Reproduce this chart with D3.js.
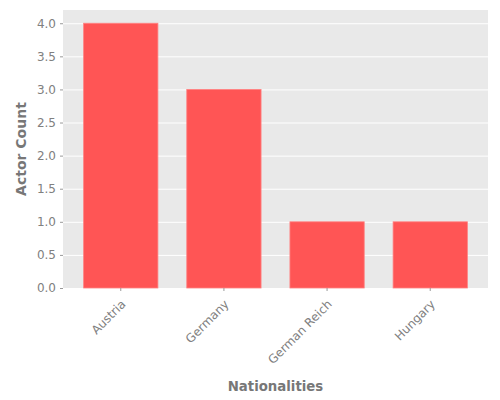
<!DOCTYPE html>
<html>
<head>
<meta charset="utf-8">
<script src="https://cdn.jsdelivr.net/npm/d3@7"></script>
<style>
  body { margin: 0; background: #fff; }
  svg { display: block; }
  svg text { font-family: "DejaVu Sans", sans-serif; }
</style>
</head>
<body>
<div id="chart"></div>
<script>
const nationalities = ['Austria', 'Germany', 'German Reich', 'Hungary'];
const actorCounts = [4, 3, 1, 1];
const yTicks = [0, 0.5, 1, 1.5, 2, 2.5, 3, 3.5, 4];

const width = 500, height = 400;
const margin = { top: 10, right: 12, bottom: 112, left: 63 };

const svg = d3.select('#chart').append('svg')
    .attr('width', width)
    .attr('height', height);

const innerW = width - margin.left - margin.right;
const innerH = height - margin.top - margin.bottom;

const g = svg.append('g')
    .attr('transform', `translate(${margin.left},${margin.top})`);

const x = d3.scaleBand()
    .domain(nationalities)
    .range([0, innerW])
    .paddingInner(0.28)
    .paddingOuter(0.2);

const y = d3.scaleLinear()
    .domain([0, 4.2])
    .range([innerH, 0]);

// panel background
g.append('rect')
    .attr('width', innerW)
    .attr('height', innerH)
    .attr('fill', '#e9e9e9');

// horizontal grid
g.selectAll('.grid')
    .data(yTicks)
    .enter()
    .append('line')
    .attr('x1', 0)
    .attr('x2', innerW)
    .attr('y1', d => y(d) + 0.5)
    .attr('y2', d => y(d) + 0.5)
    .attr('stroke', '#fff')
    .attr('stroke-width', 1);

// bars
g.selectAll('.bar')
    .data(nationalities.map((n, i) => ({ n, v: actorCounts[i] })))
    .enter()
    .append('rect')
    .attr('x', d => x(d.n))
    .attr('y', d => y(d.v))
    .attr('width', x.bandwidth())
    .attr('height', d => innerH - y(d.v))
    .attr('fill', '#ff5555')
    .attr('stroke', '#ff8080')
    .attr('stroke-width', 0.8);

// y axis
const yAxis = g.append('g')
    .call(d3.axisLeft(y).tickValues(yTicks).tickFormat(d3.format('.1f')).tickSize(3).tickPadding(4));
yAxis.select('.domain').remove();
yAxis.selectAll('line').attr('stroke', '#999');
yAxis.selectAll('text')
    .style('font-family', '"DejaVu Sans", sans-serif')
    .style('font-size', '12px')
    .attr('fill', '#808080');

// x axis
const xAxis = g.append('g')
    .attr('transform', `translate(0,${innerH})`)
    .call(d3.axisBottom(x).tickSize(3).tickPadding(3));
xAxis.select('.domain').remove();
xAxis.selectAll('line').attr('stroke', '#999');
xAxis.selectAll('text')
    .style('font-family', '"DejaVu Sans", sans-serif')
    .style('font-size', '12px')
    .attr('fill', '#808080')
    .style('text-anchor', 'end')
    .attr('x', -8)
    .attr('y', 16)
    .attr('dy', 0)
    .attr('transform', 'rotate(-45)');

// axis titles
svg.append('text')
    .attr('x', margin.left + innerW / 2)
    .attr('y', 391)
    .attr('text-anchor', 'middle')
    .style('font-size', '13.3px')
    .style('font-weight', 'bold')
    .attr('fill', '#777')
    .text('Nationalities');

svg.append('text')
    .attr('transform', `translate(26,${margin.top + innerH / 2}) rotate(-90)`)
    .attr('text-anchor', 'middle')
    .style('font-size', '14px')
    .style('font-weight', 'bold')
    .attr('fill', '#777')
    .text('Actor Count');
</script>
</body>
</html>
